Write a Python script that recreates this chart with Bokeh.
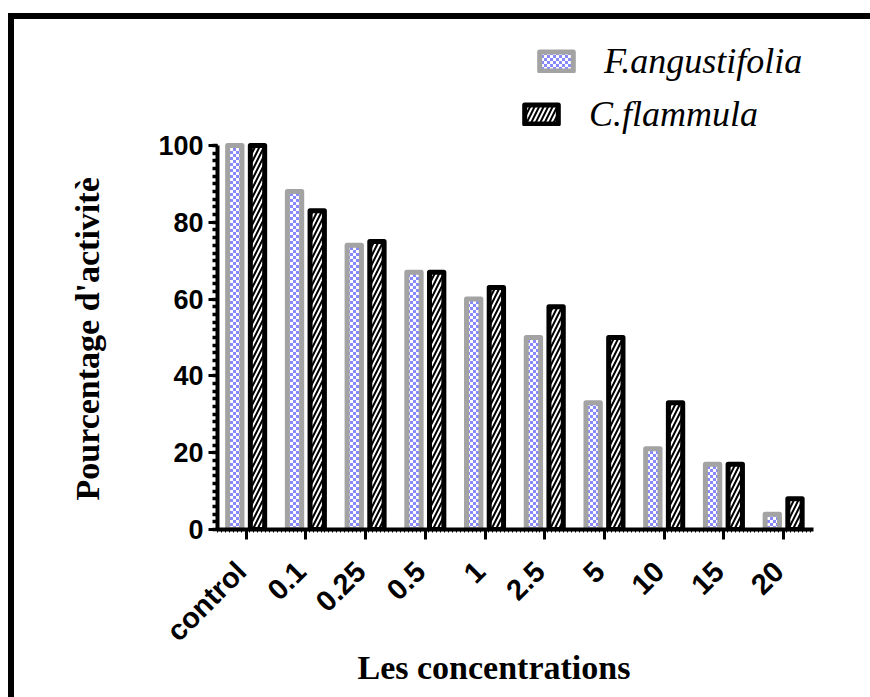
import base64
import struct
import zlib

import numpy as np
from bokeh.plotting import figure
from bokeh.models import (ColumnDataSource, Range1d, FixedTicker, Legend,
                          LegendItem, ImageURLTexture, Title, LinearAxis)
from bokeh.core.properties import value
from bokeh.transform import dodge
from bokeh.embed import file_html
from bokeh.resources import INLINE

# Concentrations tested and percentage of remaining activity
categories = ["control", "0.1", "0.25", "0.5", "1", "2.5", "5", "10", "15", "20"]
f_angustifolia = [100, 88, 74, 67, 60, 50, 33, 21, 17, 4]
c_flammula = [100, 83, 75, 67, 63, 58, 50, 33, 17, 8]
y_ticks = [0, 20, 40, 60, 80, 100]


def checker_png(c1, c2, cell):
    """Small RGB PNG tile of a two-colour checkerboard, as a data URL."""
    n = cell * 2
    raw = b""
    for yy in range(n):
        raw += b"\x00"
        for xx in range(n):
            raw += bytes(c1 if ((xx // cell) + (yy // cell)) % 2 == 0 else c2)

    def chunk(tag, data):
        return (struct.pack(">I", len(data)) + tag + data
                + struct.pack(">I", zlib.crc32(tag + data) & 0xFFFFFFFF))

    ihdr = struct.pack(">IIBBBBB", n, n, 8, 2, 0, 0, 0)
    png = (b"\x89PNG\r\n\x1a\n" + chunk(b"IHDR", ihdr)
           + chunk(b"IDAT", zlib.compress(raw)) + chunk(b"IEND", b""))
    return "data:image/png;base64," + base64.b64encode(png).decode()


src = ColumnDataSource(dict(
    x=list(range(len(categories))),
    fa=f_angustifolia,
    cf=c_flammula,
))

X0, X1 = -0.48, 9.5
p = figure(
    frame_width=596, frame_height=490,
    x_range=Range1d(X0, X1), y_range=Range1d(0, 127.6),
    min_border_left=203, min_border_right=57,
    min_border_top=20, min_border_bottom=168,
    output_backend="svg", toolbar_location=None, title=None,
)
p.styles = {
    "margin-left": "8px", "margin-top": "13px",
    "border-left": "6px solid black", "border-top": "6px solid black",
}
p.background_fill_color = "white"
p.border_fill_color = "white"
p.outline_line_color = None
p.xgrid.visible = False
p.ygrid.visible = False

checker = ImageURLTexture(url=checker_png((136, 136, 255), (255, 255, 255), 3))

r1 = p.vbar(x=dodge("x", -0.19, range=p.x_range), top="fa", width=0.24, source=src,
            fill_color="#c4c4ff", line_color="#a3a3a3", line_width=5, line_join="round",
            hatch_pattern=value("@"), hatch_extra={"@": checker}, hatch_scale=6)
r2 = p.vbar(x=dodge("x", 0.19, range=p.x_range), top="cf", width=0.24, source=src,
            fill_color="white", line_color="black", line_width=5, line_join="round",
            hatch_pattern="right_diagonal_line", hatch_color="black",
            hatch_weight=2, hatch_scale=9)

# x axis: line and tick marks only
xax = p.xaxis[0]
xax.ticker = FixedTicker(ticks=list(range(len(categories))),
                         minor_ticks=list(np.arange(X0, X1, 1 / 15)))
xax.bounds = (X0, X1)
xax.major_label_text_font_size = "1px"
xax.major_label_text_color = None
xax.major_label_standoff = 0

# category names, nudged a little to the left of their tick marks
label_shift = -0.084
p.extra_x_ranges = {"labels": Range1d(X0 - label_shift, X1 - label_shift)}
lab_ax = LinearAxis(x_range_name="labels",
                    ticker=FixedTicker(ticks=list(range(len(categories))), minor_ticks=[]),
                    major_label_overrides={i: c for i, c in enumerate(categories)},
                    major_label_orientation=np.pi / 4,
                    axis_line_color=None, major_tick_line_color=None,
                    minor_tick_line_color=None, major_tick_out=0, major_tick_in=0,
                    major_label_standoff=27,
                    major_label_text_font="Liberation Sans",
                    major_label_text_font_style="bold",
                    major_label_text_font_size="29px",
                    major_label_text_color="black")
p.add_layout(lab_ax, "below")

# y axis
yax = p.yaxis[0]
yax.ticker = FixedTicker(ticks=y_ticks, minor_ticks=list(range(0, 101, 2)))
yax.bounds = (0, 100)
yax.major_label_text_font = "Liberation Sans"
yax.major_label_text_font_style = "bold"
yax.major_label_text_color = "black"
yax.major_label_text_font_size = "27px"
yax.major_label_standoff = 5

for ax in (xax, yax):
    ax.axis_line_width = 4
    ax.axis_line_color = "black"
    ax.major_tick_line_width = 3
    ax.major_tick_line_color = "black"
    ax.major_tick_in = 0
    ax.minor_tick_in = 0
    ax.minor_tick_line_color = "black"

xax.major_tick_out = 10
xax.minor_tick_out = 3
xax.minor_tick_line_width = 1

yax.major_tick_out = 9
yax.minor_tick_out = 5
yax.minor_tick_line_width = 3.5

# axis titles
title_style = dict(text_font="Liberation Serif", text_font_style="bold",
                   text_font_size="34px", text_color="black")
p.add_layout(Title(text="Les concentrations", align="left", offset=140,
                   standoff=-30, **title_style), "below")
p.add_layout(Title(text="Pourcentage d'activitè", align="left", offset=29,
                   standoff=100, **title_style), "left")

legend_style = dict(
    border_line_color=None, background_fill_alpha=0, padding=0, margin=0,
    glyph_width=42, glyph_height=24, label_standoff=27,
    label_text_font="Liberation Serif", label_text_font_style="italic",
    label_text_font_size="36px", label_text_color="black",
)
leg1 = Legend(items=[LegendItem(label="F.angustifolia", renderers=[r1])],
              location=(318, 447), **legend_style)
leg2 = Legend(items=[LegendItem(label="C.flammula", renderers=[r2])],
              location=(303, 394), **legend_style)
p.add_layout(leg1)
p.add_layout(leg2)

open("out.html", "w").write(file_html(p, INLINE))
